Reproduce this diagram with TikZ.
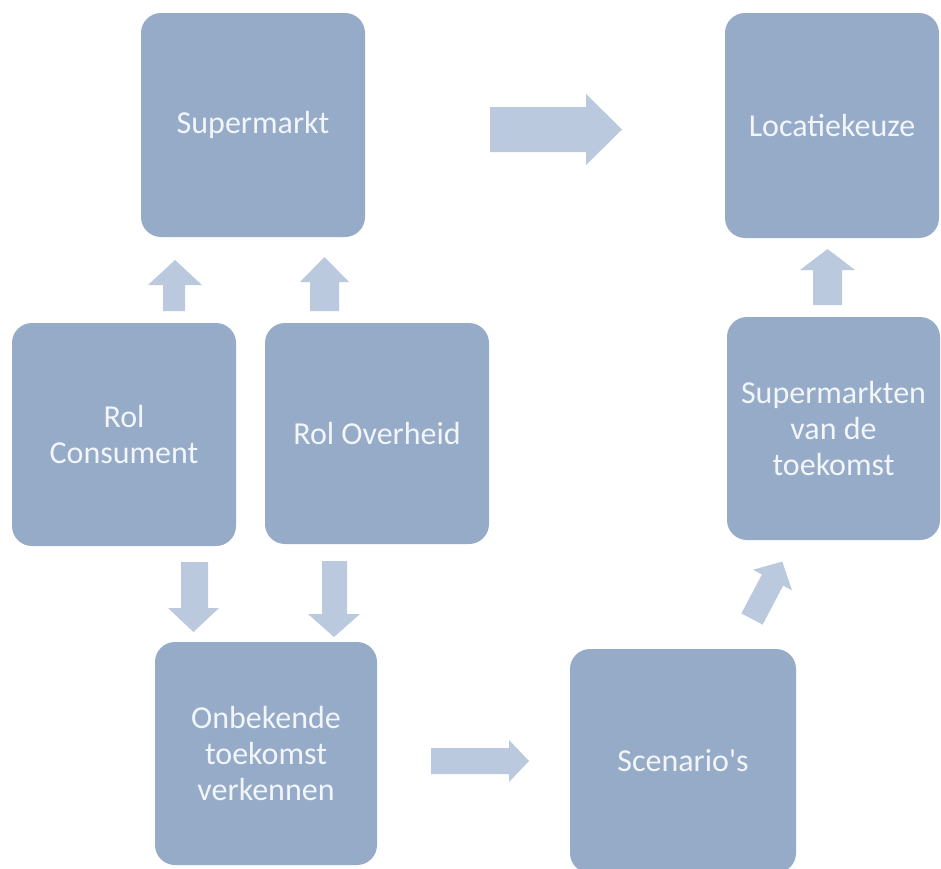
\documentclass[tikz,border=0pt]{standalone}
\usepackage{fontspec}
\setmainfont{Carlito}
\definecolor{boxfill}{RGB}{149,171,200}
\definecolor{arrowfill}{RGB}{186,201,222}
\definecolor{boxtext}{RGB}{242,245,249}
\newcommand{\straightquote}{\XeTeXglyph\XeTeXcharglyph"27\relax}
\begin{document}
\begin{tikzpicture}[x=1pt,y=-1pt,
  stepbox/.style={rectangle, rounded corners=20pt, fill=boxfill, draw=none,
    text=boxtext, align=center, inner sep=0pt,
    font=\fontsize{32}{36}\selectfont},
  blockarrow/.style={fill=arrowfill, draw=none}]
\useasboundingbox[fill=white] (0,0) rectangle (941,868);
\begin{scope}
\clip (0,0) rectangle (941,868);
% boxes
\node[stepbox, minimum width=224pt, minimum height=224pt] (sm) at (253,125) {Supermarkt};
\node[stepbox, minimum width=214pt, minimum height=225pt] (loc) at (832,125.5) {Locatiekeuze};
\node[stepbox, minimum width=224pt, minimum height=223pt] (cons) at (124,434.5) {Rol\\Consument};
\node[stepbox, minimum width=224pt, minimum height=221pt] (over) at (377,433.5) {Rol Overheid};
\node[stepbox, minimum width=222pt, minimum height=223pt] (onb) at (266,753.5) {Onbekende\\toekomst\\verkennen};
\node[stepbox, minimum width=226pt, minimum height=224pt] (scen) at (683,761) {Scenario\straightquote s};
\node[stepbox, minimum width=213pt, minimum height=223pt] (smt) at (833.5,428.5) {Supermarkten\\van de\\toekomst};
% block arrows
% Supermarkt -> Locatiekeuze
\fill[blockarrow] (490,107) -- (586,107) -- (586,94) -- (622,129.5) -- (586,165) -- (586,152) -- (490,152) -- cycle;
% Rol Consument -> Supermarkt
\fill[blockarrow] (163,311) -- (163,285) -- (148,285) -- (175,260) -- (202,285) -- (185,285) -- (185,311) -- cycle;
% Rol Overheid -> Supermarkt
\fill[blockarrow] (310,311) -- (310,282) -- (300,282) -- (324.5,257) -- (349,282) -- (339,282) -- (339,311) -- cycle;
% Rol Consument -> Onbekende
\fill[blockarrow] (181,562) -- (208,562) -- (208,608) -- (219,608) -- (193.5,632) -- (168,608) -- (181,608) -- cycle;
% Rol Overheid -> Onbekende
\fill[blockarrow] (322,561) -- (347,561) -- (347,614) -- (360,614) -- (334,637) -- (308,614) -- (322,614) -- cycle;
% Onbekende -> Scenario's
\fill[blockarrow] (431,748) -- (509,748) -- (509,740) -- (529,761) -- (509,782) -- (509,774) -- (431,774) -- cycle;
% Scenario's -> Supermarkten van de toekomst
\fill[blockarrow] (741.4,613.4) -- (761.9,574.5) -- (753,569.8) -- (782.3,561.5) -- (792,590.4) -- (783.1,585.7) -- (762.6,624.6) -- cycle;
% Supermarkten van de toekomst -> Locatiekeuze
\fill[blockarrow] (813,305) -- (813,270) -- (800,270) -- (827.5,249) -- (855,270) -- (842,270) -- (842,305) -- cycle;
\end{scope}
\end{tikzpicture}
\end{document}
